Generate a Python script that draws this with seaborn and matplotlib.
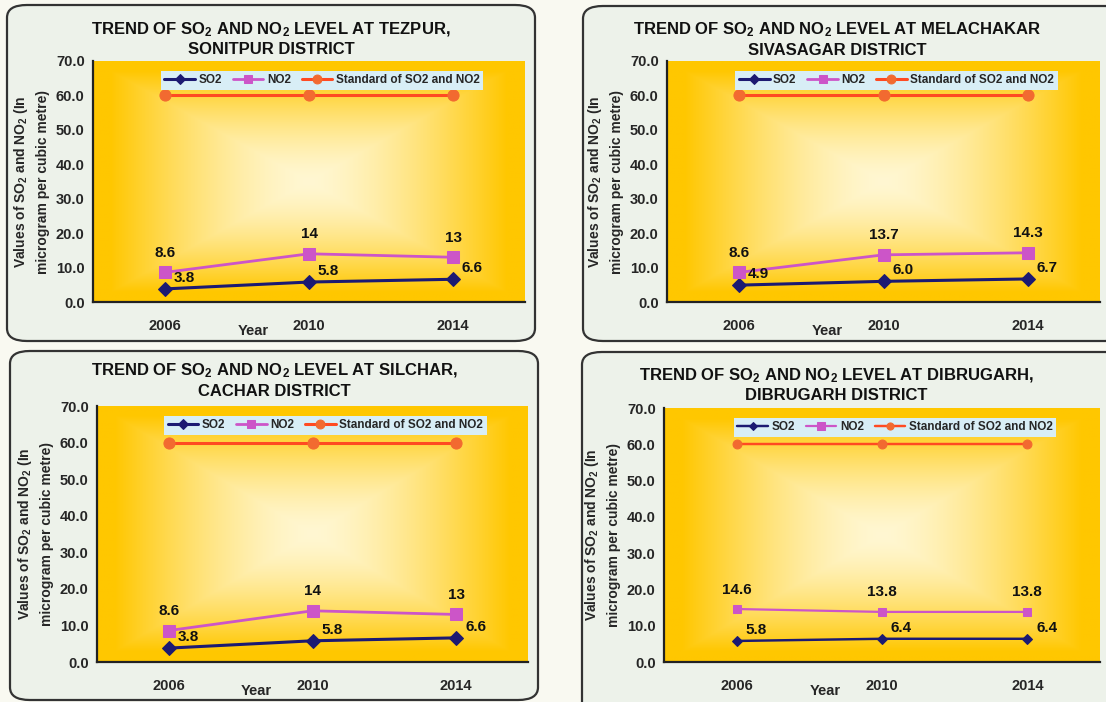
import numpy as np
import pandas as pd
import matplotlib.pyplot as plt
import seaborn as sns
from matplotlib.patches import FancyBboxPatch
from matplotlib.colors import to_rgb

# Data
years = ['2006', '2010', '2014']
standard = [60, 60, 60]

tezpur_so2 = [3.8, 5.8, 6.6]
tezpur_no2 = [8.6, 14, 13]
melachakar_so2 = [4.9, 6.0, 6.7]
melachakar_no2 = [8.6, 13.7, 14.3]
silchar_so2 = [3.8, 5.8, 6.6]
silchar_no2 = [8.6, 14, 13]
dibrugarh_so2 = [5.8, 6.4, 6.4]
dibrugarh_no2 = [14.6, 13.8, 13.8]

titles = [
    "TREND OF SO$_2$ AND NO$_2$ LEVEL AT TEZPUR,\nSONITPUR DISTRICT",
    "TREND OF SO$_2$ AND NO$_2$ LEVEL AT MELACHAKAR\nSIVASAGAR DISTRICT",
    "TREND OF SO$_2$ AND NO$_2$ LEVEL AT SILCHAR,\nCACHAR DISTRICT",
    "TREND OF SO$_2$ AND NO$_2$ LEVEL AT DIBRUGARH,\nDIBRUGARH DISTRICT",
]

sns.set_theme(style='white')
plt.rcParams['font.family'] = ['Liberation Sans', 'DejaVu Sans']
plt.rcParams['font.weight'] = 'bold'
plt.rcParams['mathtext.fontset'] = 'custom'
plt.rcParams['mathtext.rm'] = 'Liberation Sans:bold'
plt.rcParams['mathtext.bf'] = 'Liberation Sans:bold'
plt.rcParams['mathtext.it'] = 'Liberation Sans:bold'

W, H = 1106, 702
fig = plt.figure(figsize=(W / 100, H / 100), dpi=100)
fig.patch.set_facecolor('#F9F9F1')

# panel layout in pixels: box (x0, y0, x1, y1), axes (l, t, r, b), title centre
panels = [
    dict(box=(7, 5, 535, 341), ax=(93, 61, 525, 302), tc=(271, 39), so2=tezpur_so2, no2=tezpur_no2, ms=1.0),
    dict(box=(583, 6, 1125, 341), ax=(667, 61, 1100, 302), tc=(837, 39), so2=melachakar_so2, no2=melachakar_no2, ms=1.0),
    dict(box=(10, 351, 538, 700), ax=(97, 406, 528, 662), tc=(274, 380), so2=silchar_so2, no2=silchar_no2, ms=1.0),
    dict(box=(582, 352, 1125, 715), ax=(664, 408, 1100, 662), tc=(836, 385), so2=dibrugarh_so2, no2=dibrugarh_no2, ms=0.8),
]

def fx(px):
    return px / W

def fy(py):
    return 1 - py / H

# gradient background for plot area
n = 300
u = np.linspace(-1, 1, n)
U, V = np.meshgrid(u, u)
t = np.clip(np.maximum(np.abs(U), np.abs(V)) / 0.92, 0, 1) ** 1.5
light = np.array(to_rgb('#FFF7D2'))
gold = np.array(to_rgb('#FFC700'))
grad = light[None, None, :] * (1 - t[..., None]) + gold[None, None, :] * t[..., None]

x = np.arange(len(years))

for i, p in enumerate(panels):
    x0, y0, x1, y1 = p['box']
    box = FancyBboxPatch((fx(x0), fy(y1)), fx(x1 - x0), (y1 - y0) / H,
                         boxstyle='round,pad=0,rounding_size=0.018',
                         transform=fig.transFigure, facecolor='#EDF2EA',
                         edgecolor='#333333', linewidth=1.6, zorder=-5)
    fig.patches.append(box)

    l, tp, r, b = p['ax']
    ax = fig.add_axes([fx(l), fy(b), fx(r - l), (b - tp) / H], zorder=2)
    ax.set_facecolor('none')
    ax.imshow(grad, extent=(0, 1, 0, 1), transform=ax.transAxes, aspect='auto', zorder=0)

    k = p['ms']
    df = pd.DataFrame({'x': x, 'so2': p['so2'], 'no2': p['no2'], 'std': standard})
    sns.lineplot(data=df, x='x', y='so2', ax=ax, color='#1C1A72', marker='D', markersize=7 * k,
                 markeredgecolor='#1C1A72', linewidth=2.2 * k, label='SO2', zorder=3)
    sns.lineplot(data=df, x='x', y='no2', ax=ax, color='#CC55C8', marker='s', markersize=8 * k,
                 markeredgecolor='#CC55C8', linewidth=2.0 * k, label='NO2', zorder=3)
    sns.lineplot(data=df, x='x', y='std', ax=ax, color='#FF4A22', marker='o', markersize=8 * k,
                 markerfacecolor='#F26A30', markeredgecolor='#F26A30', linewidth=2.2 * k,
                 label='Standard of SO2 and NO2', zorder=3)

    for xi, v in zip(x, p['so2']):
        ax.annotate(f"{v}", (xi, v), xytext=(14, 8), textcoords='offset points',
                    ha='center', va='center', fontsize=11, fontweight='bold', color='#111111')
    for xi, v in zip(x, p['no2']):
        ax.annotate(f"{v}", (xi, v), xytext=(0, 14), textcoords='offset points',
                    ha='center', va='center', fontsize=11, fontweight='bold', color='#111111')

    ax.set_xlim(-0.5, 2.5)
    ax.set_ylim(0, 70)
    ax.set_yticks(np.arange(0, 71, 10))
    ax.set_yticklabels([f"{v:.1f}" for v in np.arange(0, 71, 10)], fontsize=10.5, fontweight='bold')
    ax.set_xticks(x)
    ax.set_xticklabels(years, fontsize=10.5, fontweight='bold')
    ax.set_xticks([-0.5, 0.5, 1.5, 2.5], minor=True)
    ax.tick_params(axis='x', which='major', length=0, pad=12)
    ax.tick_params(axis='x', which='minor', length=5, width=1.5, direction='out', color='#222222')
    ax.tick_params(axis='y', length=5, width=1.5, direction='out', color='#222222', pad=1)
    for s in ['top', 'right']:
        ax.spines[s].set_visible(False)
    for s in ['left', 'bottom']:
        ax.spines[s].set_color('#222222')
        ax.spines[s].set_linewidth(1.6)

    ax.set_xlabel('')
    ax.set_ylabel("Values of SO$_2$ and NO$_2$ (In\nmicrogram per cubic metre)",
                  fontsize=10, fontweight='bold', labelpad=4, linespacing=1.55)
    ax.annotate('Year', (0.37, 0), xycoords='axes fraction', xytext=(0, -21),
                textcoords='offset points', ha='center', va='center',
                fontsize=10.5, fontweight='bold')

    leg = ax.legend(loc='upper center', bbox_to_anchor=(0.53, 0.985), ncol=3, fontsize=8.5,
                    frameon=True, facecolor='#D8EEF6', edgecolor='none', framealpha=1,
                    handlelength=2.6, columnspacing=0.9, handletextpad=0.3,
                    borderpad=0.3, fancybox=False, markerscale=0.8)
    for txt in leg.get_texts():
        txt.set_fontweight('bold')

    tcx, tcy = p['tc']
    fig.text(fx(tcx), fy(tcy), titles[i], ha='center', va='center', fontsize=12,
             fontweight='bold', linespacing=1.3, color='#111111')

plt.savefig('out.png', dpi=100, facecolor=fig.get_facecolor())
